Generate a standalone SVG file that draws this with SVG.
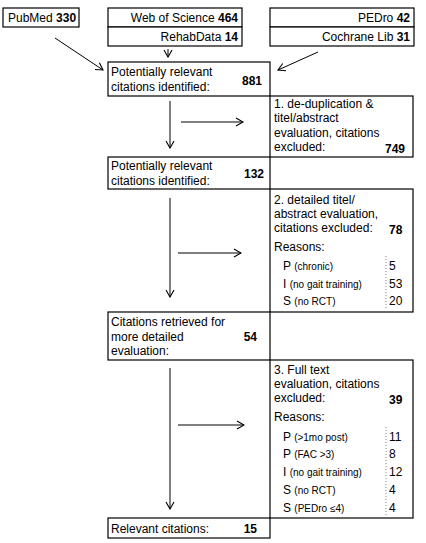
<svg xmlns="http://www.w3.org/2000/svg" width="426" height="543" viewBox="0 0 426 543">
<defs>
<marker id="ah" viewBox="0 0 10 10" refX="9" refY="5" markerWidth="10" markerHeight="10" markerUnits="userSpaceOnUse" orient="auto">
<polyline points="2,1 9,5 2,9" fill="none" stroke="#000" stroke-width="1.1"/>
</marker>
<style>
.box{fill:#fff;stroke:#000;stroke-width:1.2}
text{font-family:"Liberation Sans",Arial,sans-serif;font-size:12px;fill:#000}
.b{font-weight:bold}
.s{font-size:10px}
.e{text-anchor:end}
.c{stroke:#000;stroke-width:1;fill:none;marker-end:url(#ah)}
.dot{stroke:#888;stroke-width:1;stroke-dasharray:1,2}
</style>
</defs>
<rect width="426" height="543" fill="#fff"/>
<g id="connectors">
<line class="c" x1="55" y1="38" x2="103" y2="70"/>
<line class="c" x1="318" y1="52" x2="278" y2="70"/>
<line class="c" x1="168" y1="49" x2="168" y2="57"/>
<line class="c" x1="170" y1="101" x2="170" y2="148"/>
<line class="c" x1="181" y1="122" x2="243" y2="122"/>
<line class="c" x1="170" y1="198" x2="170" y2="297"/>
<line class="c" x1="178" y1="253" x2="241" y2="253"/>
<line class="c" x1="170" y1="368" x2="170" y2="509"/>
<line class="c" x1="178" y1="425" x2="244" y2="425"/>
</g>
<g id="pubmed">
<rect class="box" x="3" y="8" width="76" height="19"/>
<text x="8" y="22">PubMed <tspan class="b">330</tspan></text>
</g>
<g id="wos">
<rect class="box" x="108" y="8" width="134" height="19"/>
<rect class="box" x="108" y="27" width="134" height="19"/>
<text class="e" x="238" y="22">Web of Science <tspan class="b">464</tspan></text>
<text class="e" x="238" y="41">RehabData <tspan class="b">14</tspan></text>
</g>
<g id="pedro">
<rect class="box" x="270" y="8" width="144" height="19"/>
<rect class="box" x="270" y="27" width="144" height="19"/>
<text class="e" x="410" y="22">PEDro <tspan class="b">42</tspan></text>
<text class="e" x="410" y="41">Cochrane Lib <tspan class="b">31</tspan></text>
</g>
<g id="n881">
<rect class="box" x="108" y="62" width="162" height="34"/>
<text x="111" y="76">Potentially relevant</text>
<text x="111" y="91">citations identified:</text>
<text class="b e" x="262" y="85">881</text>
</g>
<g id="ex1">
<rect class="box" x="270" y="96" width="143" height="61"/>
<text x="274" y="108">1. de-duplication &amp;</text>
<text x="274" y="122">titel/abstract</text>
<text x="274" y="137">evaluation, citations</text>
<text x="274" y="151">excluded:</text>
<text class="b e" x="405" y="153">749</text>
</g>
<g id="n132">
<rect class="box" x="108" y="157" width="162" height="32"/>
<text x="111" y="170">Potentially relevant</text>
<text x="111" y="185">citations identified:</text>
<text class="b e" x="264" y="178">132</text>
</g>
<g id="ex2">
<rect class="box" x="270" y="189" width="143" height="123"/>
<text x="274" y="204">2. detailed titel/</text>
<text x="274" y="218">abstract evaluation,</text>
<text x="274" y="232">citations excluded:</text>
<text class="b" x="389" y="234">78</text>
<text x="274" y="251">Reasons:</text>
<line class="dot" x1="386" y1="256" x2="386" y2="309"/>
<text x="283" y="270">P <tspan class="s">(chronic)</tspan></text>
<text x="283" y="288">I <tspan class="s">(no gait training)</tspan></text>
<text x="283" y="305">S <tspan class="s">(no RCT)</tspan></text>
<text x="389" y="270">5</text>
<text x="389" y="288">53</text>
<text x="389" y="305">20</text>
</g>
<g id="n54">
<rect class="box" x="108" y="312" width="162" height="48"/>
<text x="111" y="326">Citations retrieved for</text>
<text x="111" y="341">more detailed</text>
<text x="111" y="355">evaluation:</text>
<text class="b e" x="257" y="341">54</text>
</g>
<g id="ex3">
<rect class="box" x="270" y="360" width="143" height="158"/>
<text x="274" y="374">3. Full text</text>
<text x="274" y="388">evaluation, citations</text>
<text x="274" y="402">excluded:</text>
<text class="b" x="389" y="404">39</text>
<text x="274" y="421">Reasons:</text>
<line class="dot" x1="386" y1="427" x2="386" y2="515"/>
<text x="283" y="441">P <tspan class="s">(&gt;1mo post)</tspan></text>
<text x="283" y="458">P <tspan class="s">(FAC &gt;3)</tspan></text>
<text x="283" y="476">I <tspan class="s">(no gait training)</tspan></text>
<text x="283" y="494">S <tspan class="s">(no RCT)</tspan></text>
<text x="283" y="512">S <tspan class="s">(PEDro ≤4)</tspan></text>
<text x="389" y="441">11</text>
<text x="389" y="458">8</text>
<text x="389" y="476">12</text>
<text x="389" y="494">4</text>
<text x="389" y="512">4</text>
</g>
<g id="n15">
<rect class="box" x="108" y="518" width="162" height="20"/>
<text x="111" y="533">Relevant citations:</text>
<text class="b e" x="257" y="533">15</text>
</g>
</svg>
